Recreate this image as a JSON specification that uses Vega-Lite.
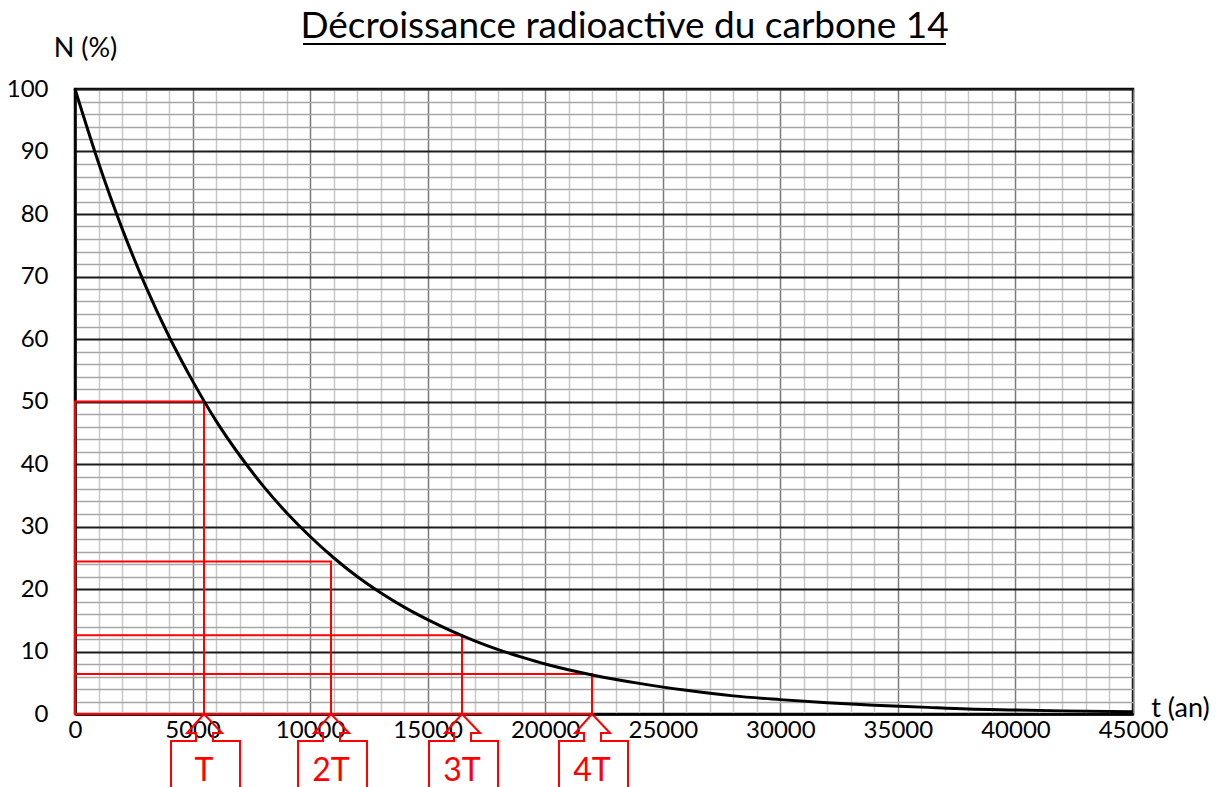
{
  "$schema": "https://vega.github.io/schema/vega-lite/v6.json",
  "width": 1058,
  "height": 625,
  "autosize": {"type": "none"},
  "padding": {"left": 75, "top": 89, "right": 89, "bottom": 73},
  "background": "white",
  "config": {"view": {"stroke": "black", "strokeWidth": 2.5}, "font": "Lato"},
  "resolve": {"axis": {"x": "independent", "y": "independent"}},
  "datasets": {
    "curve": [
      {"t": 0, "N": 100}, {"t": 1000, "N": 88.2}, {"t": 2000, "N": 77.7}, {"t": 3000, "N": 68.5},
      {"t": 4000, "N": 60.4}, {"t": 5000, "N": 53.3}, {"t": 6000, "N": 46.9}, {"t": 7000, "N": 41.4},
      {"t": 8000, "N": 36.5}, {"t": 9000, "N": 32.2}, {"t": 10000, "N": 28.4}, {"t": 11000, "N": 25.0},
      {"t": 12000, "N": 22.0}, {"t": 13000, "N": 19.4}, {"t": 14000, "N": 17.1}, {"t": 15000, "N": 15.1},
      {"t": 16000, "N": 13.3}, {"t": 17000, "N": 11.7}, {"t": 18000, "N": 10.3}, {"t": 19000, "N": 9.1},
      {"t": 20000, "N": 8.0}, {"t": 22000, "N": 6.25}, {"t": 24000, "N": 4.9}, {"t": 26000, "N": 3.8},
      {"t": 28000, "N": 2.9}, {"t": 30000, "N": 2.3}, {"t": 32000, "N": 1.8}, {"t": 34000, "N": 1.4},
      {"t": 36000, "N": 1.1}, {"t": 38000, "N": 0.8}, {"t": 40000, "N": 0.65}, {"t": 42000, "N": 0.5},
      {"t": 45000, "N": 0.35}
    ],
    "marks": [
      {"t": 5487, "N": 50, "label": "T"},
      {"t": 10889, "N": 24.4, "label": "2T"},
      {"t": 16460, "N": 12.6, "label": "3T"},
      {"t": 21990, "N": 6.4, "label": "4T"}
    ],
    "heading": [
      {"t": 9698, "end": 37046, "mid": 23372, "N": 107.2, "title": "Décroissance radioactive du carbone 14"}
    ]
  },
  "layer": [
    {
      "data": {"name": "curve"},
      "mark": {"type": "line", "color": "black", "strokeWidth": 3, "interpolate": "monotone", "opacity": 0},
      "encoding": {
        "x": {
          "field": "t", "type": "quantitative",
          "scale": {"domain": [0, 45000], "nice": false, "zero": false},
          "axis": {
            "values": [0,1000,2000,3000,4000,5000,6000,7000,8000,9000,10000,11000,12000,13000,14000,15000,16000,17000,18000,19000,20000,21000,22000,23000,24000,25000,26000,27000,28000,29000,30000,31000,32000,33000,34000,35000,36000,37000,38000,39000,40000,41000,42000,43000,44000,45000],
            "grid": true,
            "gridColor": {"condition": {"test": "datum.value % 5000 === 0", "value": "#7a7a7a"}, "value": "#c8c8c8"},
            "gridWidth": 1.5,
            "gridOpacity": 1,
            "ticks": false,
            "domainColor": "black",
            "domainWidth": 2.5,
            "format": "d",
            "labelExpr": "datum.value % 5000 === 0 ? datum.label : ''",
            "labelFontSize": 24,
            "labelFont": "Lato",
            "labelColor": "black",
            "labelPadding": 4,
            "labelOverlap": false,
            "labelFlush": false,
            "title": "t (an)",
            "titleFont": "Lato",
            "titleFontSize": 27,
            "titleFontWeight": "normal",
            "titleColor": "black",
            "titleAngle": 0,
            "titleX": 1105,
            "titleY": -6,
            "titleAlign": "center",
            "titleBaseline": "middle"
          }
        },
        "y": {
          "field": "N", "type": "quantitative",
          "scale": {"domain": [0, 100], "nice": false},
          "axis": {
            "values": [0,2,4,6,8,10,12,14,16,18,20,22,24,26,28,30,32,34,36,38,40,42,44,46,48,50,52,54,56,58,60,62,64,66,68,70,72,74,76,78,80,82,84,86,88,90,92,94,96,98,100],
            "grid": true,
            "gridColor": {"condition": {"test": "datum.value % 10 === 0", "value": "#1a1a1a"}, "value": "#a6a6a6"},
            "gridWidth": {"condition": {"test": "datum.value % 10 === 0", "value": 2}, "value": 1.5},
            "gridOpacity": 1,
            "ticks": false,
            "domainColor": "black",
            "domainWidth": 2.5,
            "labelExpr": "datum.value % 10 === 0 ? datum.label : ''",
            "labelFontSize": 24,
            "labelFont": "Lato",
            "labelColor": "black",
            "labelPadding": 27,
            "labelOverlap": false,
            "labelFlush": false,
            "title": "N (%)",
            "titleFont": "Lato",
            "titleFontSize": 27,
            "titleFontWeight": "normal",
            "titleColor": "black",
            "titleAngle": 0,
            "titleX": 10,
            "titleY": -41,
            "titleAlign": "center",
            "titleBaseline": "middle"
          }
        }
      }
    },
    {
      "data": {"name": "marks"},
      "mark": {"type": "rect", "fillOpacity": 0, "stroke": "red", "strokeWidth": 2},
      "encoding": {
        "x": {"field": "t", "type": "quantitative", "axis": null},
        "x2": {"datum": 0},
        "y": {"field": "N", "type": "quantitative", "axis": null},
        "y2": {"datum": 0}
      }
    },
    {
      "data": {"name": "curve"},
      "mark": {"type": "line", "color": "black", "strokeWidth": 3, "interpolate": "monotone"},
      "encoding": {
        "x": {"field": "t", "type": "quantitative", "axis": null},
        "y": {"field": "N", "type": "quantitative", "axis": null}
      }
    },
    {
      "data": {"name": "marks"},
      "mark": {"type": "point", "shape": "M0,0 L18,19 L9,19 L9,27 L36,27 L36,80 L-33,80 L-33,27 L-8,27 L-8,19 L-17,19 Z", "size": 4, "filled": false, "color": "red", "strokeWidth": 2, "opacity": 1},
      "encoding": {
        "x": {"field": "t", "type": "quantitative", "axis": null},
        "y": {"datum": 0, "type": "quantitative", "axis": null}
      }
    },
    {
      "data": {"name": "marks"},
      "mark": {"type": "text", "color": "red", "font": "Lato", "fontSize": 32, "dy": 57, "baseline": "middle", "align": "center"},
      "encoding": {
        "x": {"field": "t", "type": "quantitative", "axis": null},
        "y": {"datum": 0, "type": "quantitative", "axis": null},
        "text": {"field": "label"}
      }
    },
    {
      "data": {"name": "heading"},
      "mark": {"type": "rule", "color": "black", "strokeWidth": 2},
      "encoding": {
        "x": {"field": "t", "type": "quantitative", "axis": null},
        "x2": {"field": "end"},
        "y": {"field": "N", "type": "quantitative", "axis": null}
      }
    },
    {
      "data": {"name": "heading"},
      "mark": {"type": "text", "color": "black", "font": "Lato", "fontSize": 37, "baseline": "alphabetic", "align": "center", "dy": -6},
      "encoding": {
        "x": {"field": "mid", "type": "quantitative", "axis": null},
        "y": {"field": "N", "type": "quantitative", "axis": null},
        "text": {"field": "title"}
      }
    }
  ]
}
